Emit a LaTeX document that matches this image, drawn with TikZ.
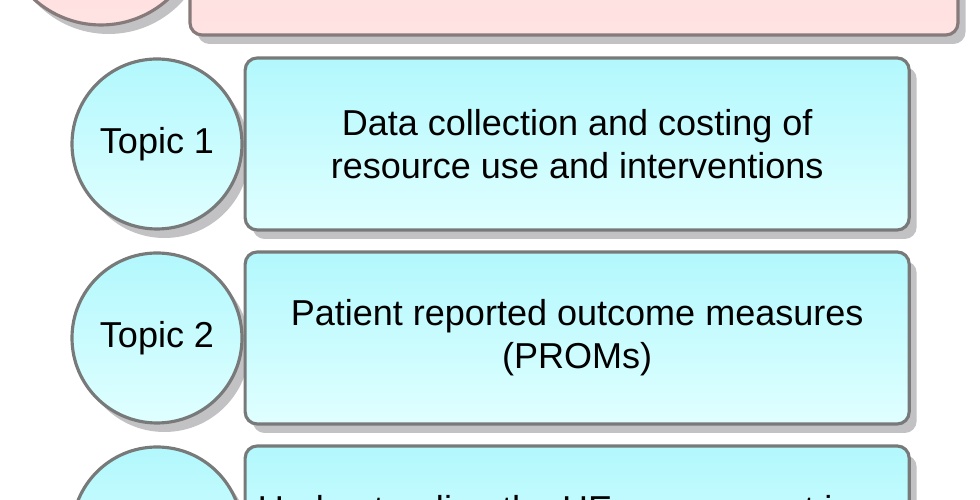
\documentclass[tikz,border=0pt]{standalone}
\usepackage{fontspec}
\setmainfont{Liberation Sans}
\usepackage{tikz}
\usetikzlibrary{shadows,positioning}
\usepackage{xcolor}

\definecolor{topicTop}{RGB}{178,248,253}
\definecolor{topicBot}{RGB}{224,255,255}
\definecolor{pinkTop}{RGB}{252,220,220}
\definecolor{pinkBot}{RGB}{255,226,226}
\definecolor{edgeGray}{RGB}{120,122,122}
\definecolor{pinkEdge}{RGB}{135,122,122}
\definecolor{shadowGray}{RGB}{194,194,197}

\begin{document}
\begin{tikzpicture}[
  topicfont/.style={font=\fontsize{20.5}{24.5}\selectfont},
  softshadow/.style={drop shadow={shadow xshift=0.15cm, shadow yshift=-0.18cm, fill=shadowGray, opacity=1}},
  topiccirc/.style={circle, draw=edgeGray, line width=1.8pt, minimum size=3.4cm, inner sep=0pt,
    top color=topicTop, bottom color=topicBot, softshadow, topicfont},
  topicbox/.style={rectangle, rounded corners=0.24cm, draw=edgeGray, line width=1.8pt,
    minimum width=13.28cm, minimum height=3.44cm, align=center,
    top color=topicTop, bottom color=topicBot, softshadow, topicfont},
  titlecirc/.style={topiccirc, draw=pinkEdge, minimum size=4cm, top color=pinkTop, bottom color=pinkBot},
  titlebox/.style={topicbox, draw=pinkEdge, minimum width=15.36cm, top color=pinkTop, bottom color=pinkBot}
]
  % Frame: 980x500 px, 50 px per cm
  \def\W{19.6}
  \def\H{10}
  \useasboundingbox (0,0) rectangle (\W,\H);
  \clip (0,0) rectangle (\W,\H);

  % Title row, mostly above the frame
  \node[titlebox] (title) at (11.48,11.02) {};
  \node[titlecirc] (titleC) at (2.02,11.5) {};

  % Topic rows
  \node[topiccirc] (topic1) at (3.14,7.12) {Topic 1};
  \node[topicbox, right=0pt of topic1] (box1)
    {Data collection and costing of\\resource use and interventions};

  \node[topiccirc] (topic2) at (3.14,3.24) {Topic 2};
  \node[topicbox, right=0pt of topic2] (box2)
    {Patient reported outcome measures\\(PROMs)};

  \node[topiccirc] (topic3) at (3.14,-0.64) {};
  \node[topicbox, right=0pt of topic3] (box3) {};
  % Only the top of its first line shows
  \node[topicfont, anchor=base] (box3txt) at ([xshift=-0.44cm, yshift=-1.54cm]box3.north)
    {Understanding the HE assessment in};
\end{tikzpicture}
\end{document}
